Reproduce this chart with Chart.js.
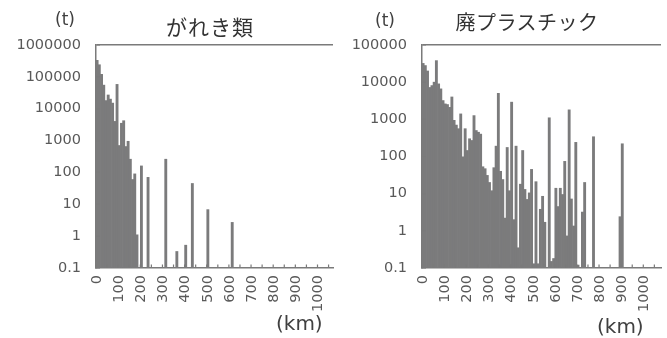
<!DOCTYPE html>
<html>
<head>
<meta charset="utf-8">
<script src="https://cdn.jsdelivr.net/npm/chart.js@4.4.1/dist/chart.umd.min.js"></script>
<style>
  body { margin: 0; background: #fff; width: 667px; height: 338px; position: relative; overflow: hidden; color: #404040; }
  .box { position: absolute; top: 0; height: 338px; }
  .lbl { position: absolute; white-space: nowrap; line-height: 1; font-family: "DejaVu Sans", sans-serif; color: #404040; }
  .ttl { position: absolute; white-space: nowrap; line-height: 1; text-align: center; font-family: "Noto Sans CJK JP", sans-serif; color: #333; }
</style>
</head>
<body>
<div class="box" style="left:0;width:340px"><canvas id="chartDebris" width="340" height="338"></canvas></div>
<div class="box" style="left:335px;width:332px"><canvas id="chartPlastic" width="332" height="338"></canvas></div>

<div class="lbl" style="left:55px;top:11px;font-size:17px">(t)</div>
<div class="ttl" style="left:110px;top:16px;width:200px;font-size:21px;letter-spacing:1px">がれき類</div>
<div class="lbl" style="left:276px;top:313px;font-size:20px">(km)</div>

<div class="lbl" style="left:375px;top:12px;font-size:17px">(t)</div>
<div class="ttl" style="left:427px;top:12px;width:200px;font-size:20px;letter-spacing:0.5px">廃プラスチック</div>
<div class="lbl" style="left:597px;top:316px;font-size:20px">(km)</div>

<script>
// distance bins (km), 10 km wide
const distances = [
  0, 10, 20, 30, 40, 50, 60, 70, 80, 90,
  100, 110, 120, 130, 140, 150, 160, 170, 180, 190,
  200, 210, 220, 230, 240, 250, 260, 270, 280, 290,
  300, 310, 320, 330, 340, 350, 360, 370, 380, 390,
  400, 410, 420, 430, 440, 450, 460, 470, 480, 490,
  500, 510, 520, 530, 540, 550, 560, 570, 580, 590,
  600, 610, 620, 630, 640, 650, 660, 670, 680, 690,
  700, 710, 720, 730, 740, 750, 760, 770, 780, 790,
  800, 810, 820, 830, 840, 850, 860, 870, 880, 890,
  900, 910, 920, 930, 940, 950, 960, 970, 980, 990,
  1000, 1010, 1020, 1030, 1040, 1050, 1060, 1070
];

// labelled distances on the x axis
const xTickLabels = [0, 100, 200, 300, 400, 500, 600, 700, 800, 900, 1000];

// がれき類 (t) per bin
const debris = [
  330000, 240000, 120000, 55000, 18000, 27000, 20000, 15000, 4000, 58000,
  700, 3500, 4200, 650, 950, 260, 60, 90, 1.1, null,
  160, null, null, 70, null, null, null, null, null, null,
  null, 260, null, null, null, null, 0.33, null, null, null,
  0.52, null, null, 45, null, null, null, null, null, null,
  6.8, null, null, null, null, null, null, null, null, null,
  null, 2.7, null, null, null, null, null, null, null, null,
  null, null, null, null, null, null, null, null, null, null,
  null, null, null, null, null, null, null, null, null, null,
  null, null, null, null, null, null, null, null, null, null,
  null, null, null, null, null, null, null
];

// 廃プラスチック (t) per bin
const plastic = [
  32000, 28000, 20000, 7200, 8100, 10000, 38000, 9000, 6600, 3200,
  2600, 2500, 2100, 4000, 940, 700, 560, 1400, 98, 560,
  145, 300, 270, 1260, 500, 450, 400, 53, 47, 31,
  20, 12, 50, 190, 5000, 40, 24, 2.2, 175, 12,
  2900, 2, 190, 0.35, 18, 145, 13, 7, 10.5, 45,
  0.13, 21, 0.13, 3.8, 8.5, 1.7, null, 1100, 0.15, 0.18,
  14, 4.5, 14, 9.5, 74, 0.73, 1800, 7.2, 1.35, 240,
  0.12, null, 3.2, 20, null, null, null, 340, null, null,
  null, null, null, null, null, null, null, null, null, 2.4,
  220, null, null, null, null, null, null, null, null, null,
  null, null, null, null, null, null, null, null
];

const yTicksDebris = [0.1, 1, 10, 100, 1000, 10000, 100000, 1000000];
const yTicksPlastic = [0.1, 1, 10, 100, 1000, 10000, 100000];

const barColor = '#7b7b7c';
const axisColor = '#7a7a7a';
const labelColor = '#595959';

Chart.defaults.font.family = '"DejaVu Sans", sans-serif';
Chart.defaults.font.size = 14.5;
Chart.defaults.color = labelColor;

// inner tick marks and the vertical distance labels
const axisExtras = {
  id: 'axisExtras',
  afterDatasetsDraw(chart) {
    const { ctx, chartArea: a, scales: { x, y } } = chart;
    ctx.save();
    ctx.strokeStyle = axisColor;
    ctx.lineWidth = 1.2;
    ctx.beginPath();
    y.ticks.forEach(t => {
      const py = y.getPixelForValue(t.value);
      ctx.moveTo(a.left, py);
      ctx.lineTo(a.left + 4, py);
    });
    const step = x.getPixelForValue(1) - x.getPixelForValue(0);
    const start = x.getPixelForValue(0) - step / 2;
    for (let i = 0; i <= x.ticks.length; i += 5) {
      const px = start + i * step;
      ctx.moveTo(px, a.bottom);
      ctx.lineTo(px, a.bottom - 3.5);
    }
    ctx.stroke();
    ctx.restore();
  },
  afterDraw(chart) {
    const { ctx, chartArea: a, scales: { x } } = chart;
    ctx.save();
    ctx.fillStyle = labelColor;
    ctx.font = '14.5px "DejaVu Sans", sans-serif';
    ctx.textAlign = 'right';
    ctx.textBaseline = 'middle';
    xTickLabels.forEach(d => {
      const i = distances.indexOf(d);
      ctx.save();
      ctx.translate(x.getPixelForValue(i), a.bottom + 7);
      ctx.rotate(-Math.PI / 2);
      ctx.fillText(String(d), 0, 0);
      ctx.restore();
    });
    ctx.restore();
  }
};

function makeChart(id, values, count, yTicks, yWidth, padRight) {
  const yMax = yTicks[yTicks.length - 1];
  return new Chart(document.getElementById(id), {
    type: 'bar',
    data: {
      labels: distances.slice(0, count).map(String),
      datasets: [{
        data: values,
        backgroundColor: barColor,
        borderWidth: 0,
        barPercentage: 1,
        categoryPercentage: 1
      }]
    },
    options: {
      responsive: false,
      animation: false,
      layout: { padding: { left: 0, right: padRight, top: 45, bottom: 0 } },
      plugins: { legend: { display: false }, tooltip: { enabled: false } },
      scales: {
        x: {
          grid: { display: false },
          border: { display: true, color: axisColor, width: 1.5 },
          ticks: { display: false },
          afterFit: s => { s.height = 70; }
        },
        y: {
          type: 'logarithmic',
          min: 0.1,
          max: yMax,
          afterBuildTicks: s => { s.ticks = yTicks.map(v => ({ value: v })); },
          grid: {
            drawTicks: false,
            color: c => (c.tick && c.tick.value === yMax ? axisColor : 'rgba(0,0,0,0)'),
            lineWidth: 1.5
          },
          border: { display: true, color: axisColor, width: 1.5 },
          ticks: { autoSkip: false, padding: 15, callback: v => String(v) },
          afterFit: s => { s.width = yWidth; }
        }
      }
    },
    plugins: [axisExtras]
  });
}

makeChart('chartDebris', debris, 107, yTicksDebris, 96, 7);
makeChart('chartPlastic', plastic, 108, yTicksPlastic, 87, 6);
</script>
</body>
</html>
